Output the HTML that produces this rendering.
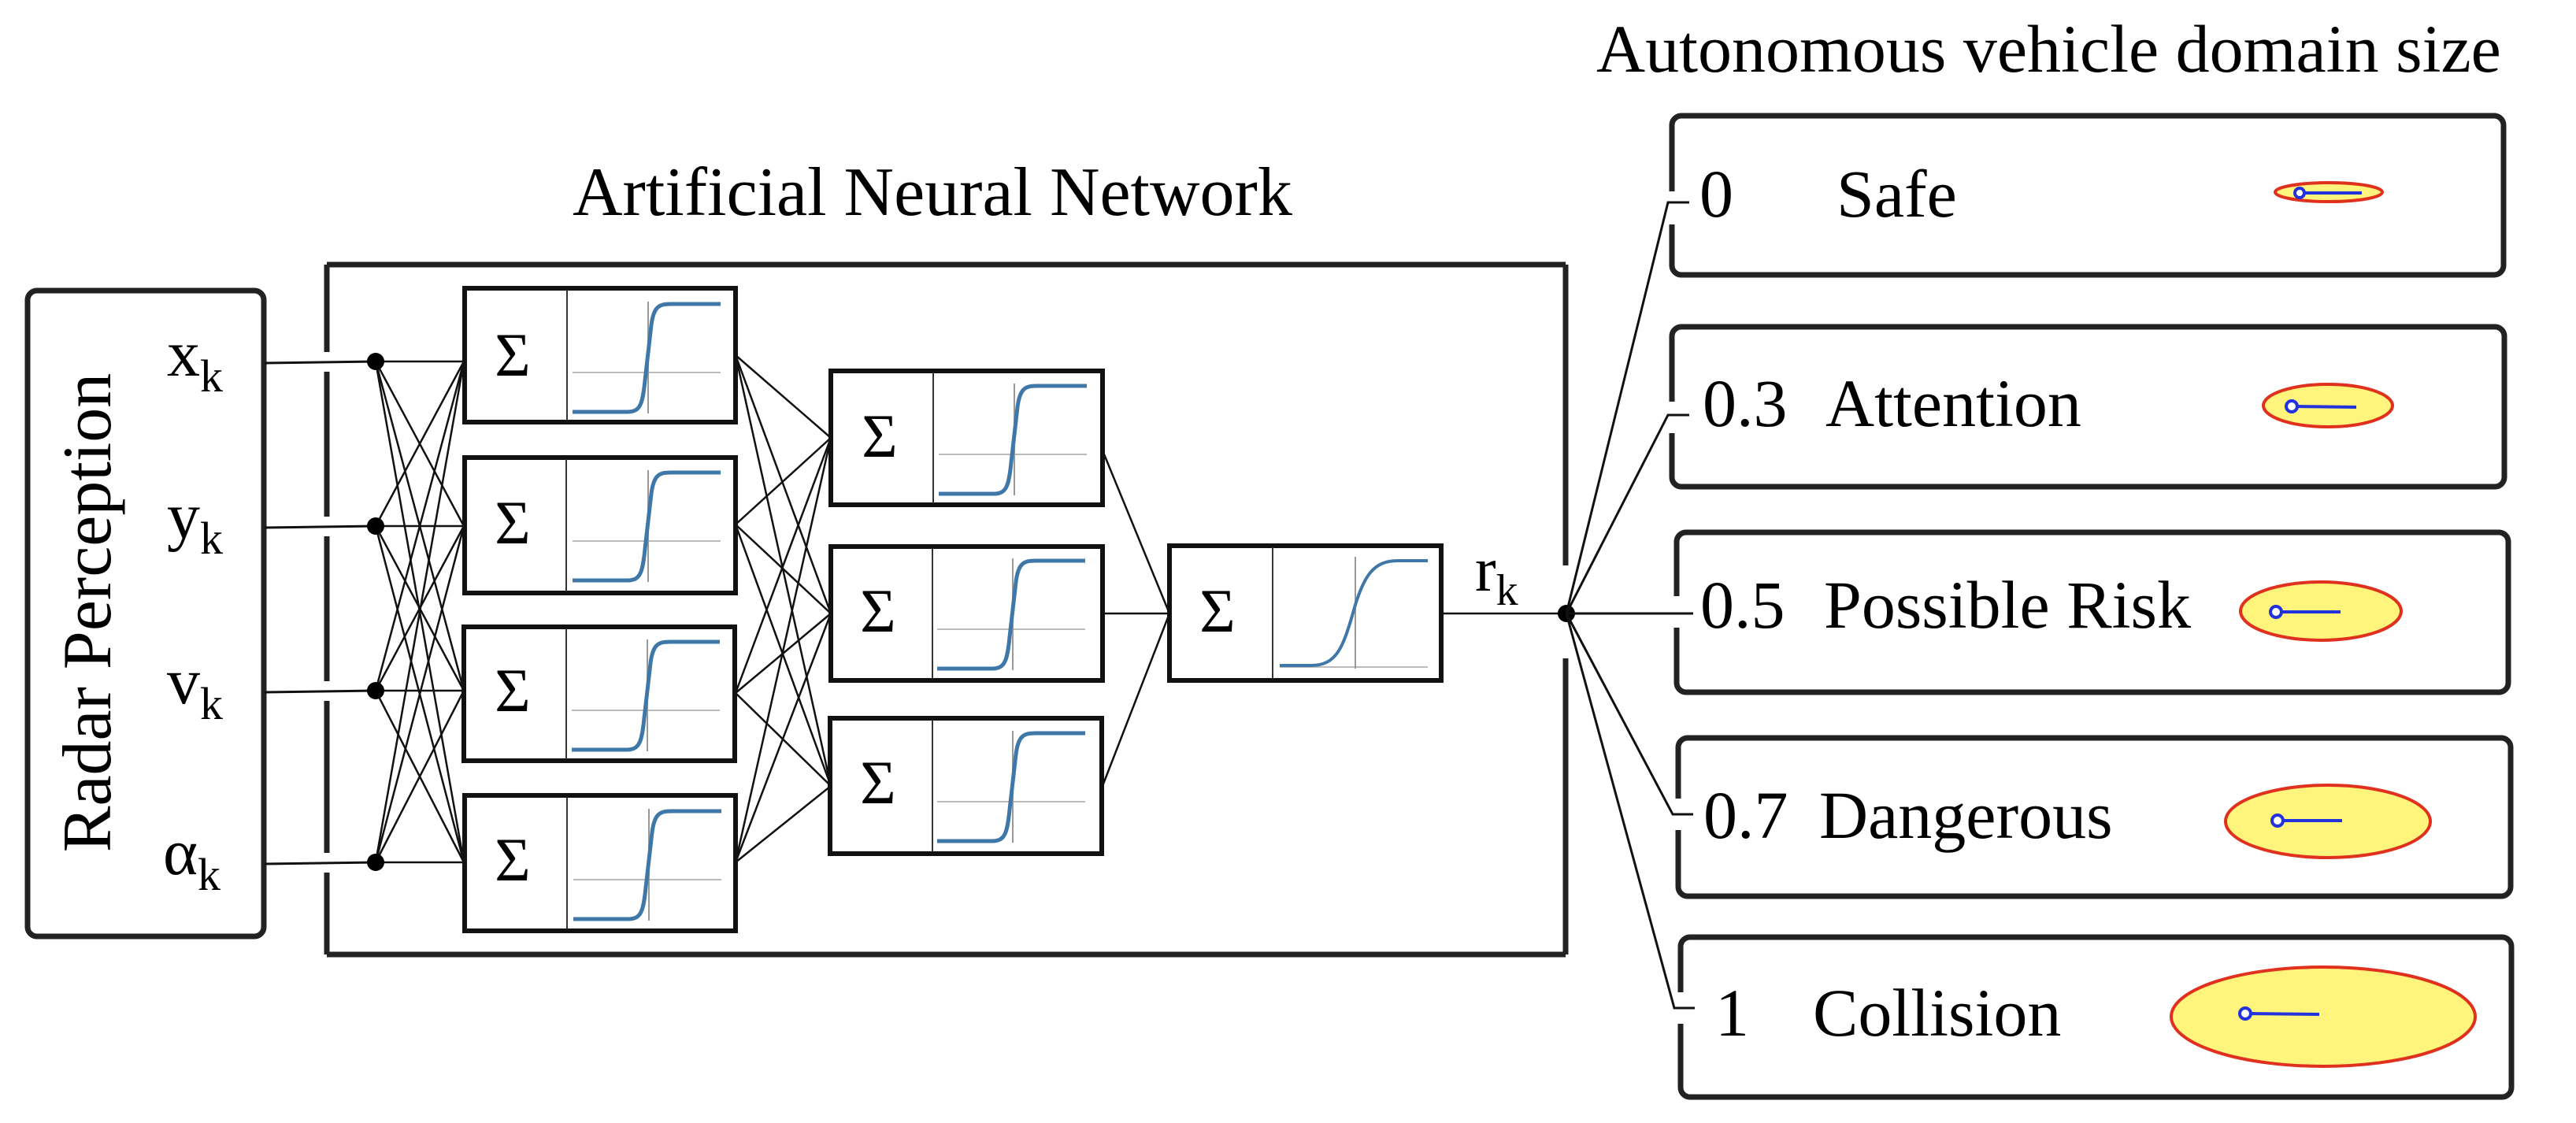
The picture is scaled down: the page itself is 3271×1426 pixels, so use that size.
<!DOCTYPE html>
<html><head><meta charset="utf-8"><style>
html,body{margin:0;padding:0;background:#fff;}
svg{display:block;}
text{font-family:"Liberation Serif",serif;fill:#000;}
</style></head><body>
<svg width="3271" height="1426" viewBox="0 0 3271 1426" xmlns="http://www.w3.org/2000/svg">
<defs>
<symbol id="s1" viewBox="0 0 195 145" preserveAspectRatio="none">
<line x1="0" y1="90" x2="188" y2="90" stroke="#bbb" stroke-width="2"/>
<line x1="96" y1="0" x2="96" y2="142" stroke="#999" stroke-width="2"/>
<path d="M0,140 L70,140 C86,140 89,130 92,100 L100,30 C103,6 110,3 125,3 L188,3" fill="none" stroke="#3f78a8" stroke-width="5"/>
</symbol>
<symbol id="s3" viewBox="0 0 195 145" preserveAspectRatio="none">
<line x1="0" y1="140" x2="188" y2="140" stroke="#bbb" stroke-width="2"/>
<line x1="96" y1="0" x2="96" y2="142" stroke="#999" stroke-width="2"/>
<path d="M0,138 L40,138 C72,138 80,115 92,75 C106,22 120,5 150,5 L188,5" fill="none" stroke="#3f78a8" stroke-width="4"/>
</symbol>
</defs>

<!-- Radar box -->
<rect x="35" y="369" width="300" height="820" rx="12" fill="none" stroke="#222" stroke-width="7"/>
<text transform="translate(140,778) rotate(-90)" text-anchor="middle" font-size="88">Radar Perception</text>
<text x="212" y="477" font-size="84">x<tspan font-size="58" dy="20">k</tspan></text>
<text x="212" y="683" font-size="84">y<tspan font-size="58" dy="20">k</tspan></text>
<text x="212" y="893" font-size="84">v<tspan font-size="58" dy="20">k</tspan></text>
<text x="207" y="1110" font-size="84">α<tspan font-size="58" dy="20">k</tspan></text>

<!-- ANN title and box -->
<text x="727" y="273" font-size="88">Artificial Neural Network</text>
<g stroke="#222" stroke-width="7" fill="none">
<line x1="415" y1="336" x2="1988" y2="336"/>
<line x1="415" y1="1212" x2="1988" y2="1212"/>
<line x1="415" y1="336" x2="415" y2="447"/>
<line x1="415" y1="472" x2="415" y2="656"/>
<line x1="415" y1="681" x2="415" y2="865"/>
<line x1="415" y1="890" x2="415" y2="1083"/>
<line x1="415" y1="1108" x2="415" y2="1212"/>
<line x1="1988" y1="336" x2="1988" y2="718"/>
<line x1="1988" y1="836" x2="1988" y2="1212"/>
</g>

<!-- input lines -->
<g stroke="#111" stroke-width="3">
<line x1="336" y1="461" x2="477" y2="459"/>
<line x1="336" y1="670" x2="477" y2="668"/>
<line x1="336" y1="879" x2="477" y2="877"/>
<line x1="336" y1="1097" x2="477" y2="1095"/>
</g>

<!-- connections input -> L1 -->
<g stroke="#111" stroke-width="2.5">
<line x1="477" y1="459" x2="589" y2="459"/><line x1="477" y1="459" x2="589" y2="668"/><line x1="477" y1="459" x2="589" y2="877"/><line x1="477" y1="459" x2="589" y2="1095"/>
<line x1="477" y1="668" x2="589" y2="459"/><line x1="477" y1="668" x2="589" y2="668"/><line x1="477" y1="668" x2="589" y2="877"/><line x1="477" y1="668" x2="589" y2="1095"/>
<line x1="477" y1="877" x2="589" y2="459"/><line x1="477" y1="877" x2="589" y2="668"/><line x1="477" y1="877" x2="589" y2="877"/><line x1="477" y1="877" x2="589" y2="1095"/>
<line x1="477" y1="1095" x2="589" y2="459"/><line x1="477" y1="1095" x2="589" y2="668"/><line x1="477" y1="1095" x2="589" y2="877"/><line x1="477" y1="1095" x2="589" y2="1095"/>
<!-- L1 -> L2 -->
<line x1="934" y1="451" x2="1055" y2="556"/><line x1="934" y1="451" x2="1055" y2="779"/><line x1="934" y1="451" x2="1055" y2="998"/>
<line x1="934" y1="666" x2="1055" y2="556"/><line x1="934" y1="666" x2="1055" y2="779"/><line x1="934" y1="666" x2="1055" y2="998"/>
<line x1="934" y1="880" x2="1055" y2="556"/><line x1="934" y1="880" x2="1055" y2="779"/><line x1="934" y1="880" x2="1055" y2="998"/>
<line x1="934" y1="1095" x2="1055" y2="556"/><line x1="934" y1="1095" x2="1055" y2="779"/><line x1="934" y1="1095" x2="1055" y2="998"/>
<!-- L2 -> L3 -->
<line x1="1400" y1="572" x2="1485" y2="779"/><line x1="1400" y1="779" x2="1485" y2="779"/><line x1="1400" y1="998" x2="1485" y2="779"/>
<!-- L3 -> out -->
<line x1="1830" y1="779" x2="1989" y2="779"/>
</g>
<g fill="#000">
<circle cx="477" cy="459" r="11"/><circle cx="477" cy="668" r="11"/><circle cx="477" cy="877" r="11"/><circle cx="477" cy="1095" r="11"/>
<circle cx="1989" cy="779" r="11"/>
</g>

<!-- Layer boxes -->
<g stroke="#111" stroke-width="6" fill="#fff">
<rect x="590" y="366" width="344" height="170"/>
<rect x="590" y="581" width="344" height="172"/>
<rect x="589" y="796" width="344" height="170"/>
<rect x="590" y="1010" width="344" height="172"/>
<rect x="1055" y="471" width="345" height="170"/>
<rect x="1055" y="694" width="345" height="170"/>
<rect x="1054" y="912" width="345" height="172"/>
<rect x="1485" y="693" width="345" height="171"/>
</g>
<g stroke="#333" stroke-width="2">
<line x1="720" y1="368" x2="720" y2="534"/><line x1="719" y1="583" x2="719" y2="751"/><line x1="719" y1="798" x2="719" y2="964"/><line x1="720" y1="1012" x2="720" y2="1180"/>
<line x1="1185" y1="473" x2="1185" y2="639"/><line x1="1184" y1="696" x2="1184" y2="862"/><line x1="1184" y1="914" x2="1184" y2="1082"/>
<line x1="1616" y1="695" x2="1616" y2="862"/>
</g>
<g font-size="78" text-anchor="middle">
<text x="651" y="477">Σ</text><text x="651" y="690">Σ</text><text x="651" y="903">Σ</text><text x="651" y="1118">Σ</text>
<text x="1117" y="580">Σ</text><text x="1115" y="802">Σ</text><text x="1115" y="1020">Σ</text>
<text x="1546" y="802">Σ</text>
</g>
<use href="#s1" x="727" y="383" width="195" height="145"/>
<use href="#s1" x="727" y="597" width="195" height="145"/>
<use href="#s1" x="726" y="812" width="195" height="145"/>
<use href="#s1" x="728" y="1027" width="195" height="145"/>
<use href="#s1" x="1192" y="487" width="195" height="145"/>
<use href="#s1" x="1190" y="709" width="195" height="145"/>
<use href="#s1" x="1190" y="928" width="195" height="145"/>
<use href="#s3" x="1625" y="707" width="195" height="145"/>

<text x="1873" y="750" font-size="80">r<tspan font-size="56" dy="18">k</tspan></text>

<!-- Output title -->
<text x="2027" y="91" font-size="86">Autonomous vehicle domain size</text>

<!-- output boxes -->
<g stroke="#222" stroke-width="7" fill="none">
<rect x="2123" y="147" width="1056" height="202" rx="12"/>
<rect x="2123" y="415" width="1057" height="203" rx="12"/>
<rect x="2129" y="676" width="1056" height="203" rx="12"/>
<rect x="2131" y="937" width="1057" height="201" rx="12"/>
<rect x="2134" y="1190" width="1055" height="203" rx="12"/>
</g>
<g fill="#fff">
<rect x="2115" y="243" width="16" height="42"/>
<rect x="2115" y="510" width="16" height="40"/>
<rect x="2121" y="757" width="16" height="40"/>
<rect x="2123" y="1014" width="16" height="40"/>
<rect x="2126" y="1260" width="16" height="40"/>
</g>
<g stroke="#111" stroke-width="3" fill="none">
<polyline points="1989,779 2118,257 2145,257"/>
<polyline points="1989,779 2118,527 2145,527"/>
<polyline points="1989,779 2150,779"/>
<polyline points="1989,779 2124,1034 2150,1034"/>
<polyline points="1989,779 2126,1280 2152,1280"/>
</g>
<g font-size="86">
<text x="2158" y="275">0</text><text x="2332" y="275">Safe</text>
<text x="2162" y="541">0.3</text><text x="2318" y="541">Attention</text>
<text x="2159" y="797">0.5</text><text x="2316" y="797">Possible Risk</text>
<text x="2163" y="1064">0.7</text><text x="2310" y="1064">Dangerous</text>
<text x="2178" y="1315">1</text><text x="2302" y="1315">Collision</text>
</g>

<!-- domain ellipses -->
<g fill="#fff47c" stroke="#e0301e" stroke-width="4">
<ellipse cx="2957" cy="244" rx="68" ry="12"/>
<ellipse cx="2956" cy="515" rx="82" ry="27"/>
<ellipse cx="2947" cy="776" rx="102" ry="37"/>
<ellipse cx="2956" cy="1043" rx="130" ry="46"/>
<ellipse cx="2950" cy="1291" rx="193" ry="63"/>
</g>
<g stroke="#2233dd" stroke-width="4" fill="#fff">
<line x1="2920" y1="245" x2="2999" y2="245"/><circle cx="2920" cy="245" r="6"/>
<line x1="2910" y1="516" x2="2992" y2="517"/><circle cx="2910" cy="516" r="7"/>
<line x1="2890" y1="777" x2="2972" y2="777"/><circle cx="2890" cy="777" r="7"/>
<line x1="2892" y1="1042" x2="2974" y2="1042"/><circle cx="2892" cy="1042" r="7"/>
<line x1="2851" y1="1287" x2="2945" y2="1288"/><circle cx="2851" cy="1287" r="7"/>
</g>
</svg>
</body></html>
